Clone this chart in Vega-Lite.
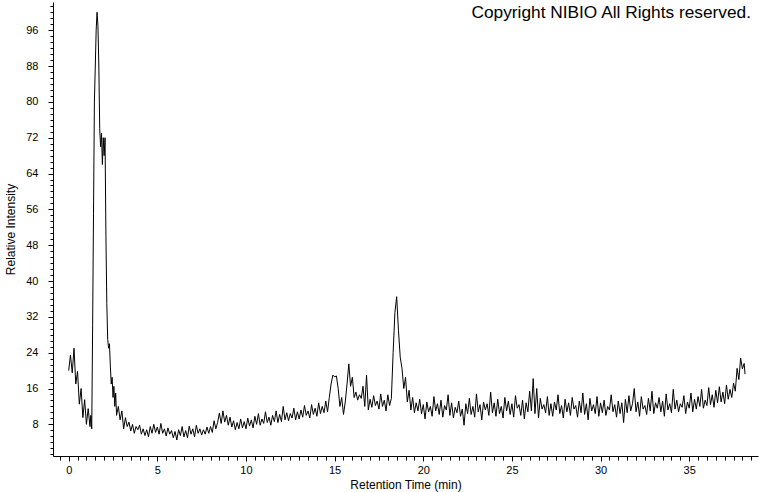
{
"$schema": "https://vega.github.io/schema/vega-lite/v6.json",
"width": 705, "height": 454,
"autosize": "none",
"padding": {"left": 53, "top": 2, "right": 2, "bottom": 36},
"background": "white",
"title": {"text": "Copyright NIBIO All Rights reserved.", "anchor": "end", "frame": "group", "orient": "top", "offset": -21, "dx": -7, "fontSize": 17.3, "fontWeight": "normal", "font": "Liberation Sans", "color": "black"},
"config": {"view": {"stroke": null}, "font": "Liberation Sans", "axis": {"domainColor": "black", "tickColor": "black", "labelColor": "black", "titleColor": "black", "grid": false, "titleFontWeight": "normal", "labelFont": "Liberation Sans", "titleFont": "Liberation Sans"}},
"data": {"values": [
{"t":0.0,"v":20.0},{"t":0.1,"v":23.5},{"t":0.2,"v":19.5},{"t":0.3,"v":25.0},{"t":0.4,"v":17.0},{"t":0.5,"v":19.8},{"t":0.6,"v":12.5},{"t":0.7,"v":16.0},{"t":0.8,"v":9.5},{"t":0.9,"v":13.5},{"t":1.0,"v":8.0},{"t":1.1,"v":11.5},{"t":1.2,"v":7.5},{"t":1.25,"v":10.0},{"t":1.3,"v":7.0},
{"t":1.35,"v":30},{"t":1.4,"v":55},{"t":1.45,"v":80},{"t":1.5,"v":88},{"t":1.55,"v":96},{"t":1.6,"v":100},{"t":1.65,"v":97},{"t":1.7,"v":88},{"t":1.75,"v":74},{"t":1.8,"v":70},{"t":1.85,"v":73},{"t":1.9,"v":66},{"t":1.95,"v":72},{"t":2.0,"v":68},{"t":2.05,"v":72},{"t":2.1,"v":50},{"t":2.15,"v":35},{"t":2.2,"v":27},{"t":2.25,"v":25},{"t":2.3,"v":26},{"t":2.35,"v":21},{"t":2.4,"v":17},{"t":2.45,"v":18.5},{"t":2.5,"v":14},{"t":2.55,"v":16.5},{"t":2.6,"v":12},{"t":2.65,"v":15},{"t":2.7,"v":10},
{"t":2.8,"v":12},{"t":2.9,"v":9},{"t":3.0,"v":11},{"t":3.1,"v":7},{"t":3.2,"v":9.5},{"t":3.3,"v":7.5},{"t":3.4,"v":8.5},{"t":3.5,"v":6.5},{"t":3.6,"v":8},{"t":3.7,"v":6},{"t":3.8,"v":7.5},{"t":3.9,"v":6.8},
{"t":4.0,"v":7.8},{"t":4.1,"v":5.8},{"t":4.2,"v":7},{"t":4.3,"v":5.5},{"t":4.4,"v":6.8},{"t":4.5,"v":5.2},{"t":4.6,"v":7.5},{"t":4.7,"v":6},{"t":4.8,"v":8},{"t":4.9,"v":6.2},
{"t":5.0,"v":7.4},{"t":5.1,"v":5.8},{"t":5.2,"v":8.2},{"t":5.3,"v":6},{"t":5.4,"v":7},{"t":5.5,"v":5.4},{"t":5.6,"v":7.2},{"t":5.7,"v":5.8},{"t":5.8,"v":6.6},{"t":5.9,"v":5},
{"t":6.0,"v":6.4},{"t":6.1,"v":4.5},{"t":6.2,"v":6.8},{"t":6.3,"v":5.5},{"t":6.4,"v":7.5},{"t":6.5,"v":5.2},{"t":6.6,"v":6.6},{"t":6.7,"v":5},{"t":6.8,"v":7.6},{"t":6.9,"v":5.8},
{"t":7.0,"v":7},{"t":7.1,"v":5.2},{"t":7.2,"v":7.8},{"t":7.3,"v":6},{"t":7.4,"v":7},{"t":7.5,"v":5.6},{"t":7.6,"v":6.8},{"t":7.7,"v":5.8},{"t":7.8,"v":7.4},{"t":7.9,"v":6},
{"t":8.0,"v":7.5},{"t":8.1,"v":6.2},{"t":8.2,"v":8.8},{"t":8.3,"v":7},{"t":8.4,"v":8.4},{"t":8.5,"v":10.5},{"t":8.6,"v":8.2},{"t":8.7,"v":11},{"t":8.8,"v":8.5},{"t":8.9,"v":10},
{"t":9.0,"v":7.8},{"t":9.1,"v":9.6},{"t":9.2,"v":7.4},{"t":9.3,"v":8.8},{"t":9.4,"v":6.8},{"t":9.5,"v":8.4},{"t":9.6,"v":7},{"t":9.7,"v":9.2},{"t":9.8,"v":7.2},{"t":9.9,"v":8.6},
{"t":10.0,"v":7},{"t":10.1,"v":9.4},{"t":10.2,"v":7.6},{"t":10.3,"v":9},{"t":10.4,"v":7.2},{"t":10.5,"v":9.8},{"t":10.6,"v":8},{"t":10.7,"v":10.4},{"t":10.8,"v":7.8},{"t":10.9,"v":9.2},
{"t":11.0,"v":8.2},{"t":11.1,"v":10.8},{"t":11.2,"v":8.4},{"t":11.3,"v":9.6},{"t":11.4,"v":7.8},{"t":11.5,"v":10},{"t":11.6,"v":8.6},{"t":11.7,"v":11},{"t":11.8,"v":8.4},{"t":11.9,"v":10.2},
{"t":12.0,"v":8.6},{"t":12.1,"v":12},{"t":12.2,"v":9},{"t":12.3,"v":10.6},{"t":12.4,"v":8.8},{"t":12.5,"v":10.4},{"t":12.6,"v":9.4},{"t":12.7,"v":11.6},{"t":12.8,"v":9},{"t":12.9,"v":10.8},
{"t":13.0,"v":9.2},{"t":13.1,"v":11.2},{"t":13.2,"v":9.6},{"t":13.3,"v":12.2},{"t":13.4,"v":10},{"t":13.5,"v":11},{"t":13.6,"v":9.4},{"t":13.7,"v":12.4},{"t":13.8,"v":10.2},{"t":13.9,"v":11.6},
{"t":14.0,"v":9.8},{"t":14.1,"v":12.8},{"t":14.2,"v":10.4},{"t":14.3,"v":12},{"t":14.4,"v":10.6},{"t":14.5,"v":13.2},{"t":14.6,"v":10.8},{"t":14.7,"v":14},{"t":14.8,"v":17},{"t":14.9,"v":19},
{"t":15.0,"v":18.6},{"t":15.1,"v":18.8},{"t":15.2,"v":16},{"t":15.3,"v":12},{"t":15.4,"v":14},{"t":15.5,"v":10.2},{"t":15.6,"v":13},{"t":15.7,"v":17},{"t":15.8,"v":21.5},{"t":15.9,"v":16.5},
{"t":16.0,"v":18.5},{"t":16.1,"v":14},{"t":16.2,"v":15.2},{"t":16.3,"v":13.4},{"t":16.4,"v":14.6},{"t":16.5,"v":13.8},{"t":16.6,"v":16.5},{"t":16.7,"v":12},{"t":16.8,"v":19},{"t":16.9,"v":11.2},
{"t":17.0,"v":13.6},{"t":17.1,"v":11.8},{"t":17.2,"v":14.4},{"t":17.3,"v":12.2},{"t":17.4,"v":13.2},{"t":17.5,"v":11.4},{"t":17.6,"v":14.8},{"t":17.7,"v":12},{"t":17.8,"v":13.4},{"t":17.9,"v":11},
{"t":18.0,"v":14.6},{"t":18.1,"v":12.2},{"t":18.2,"v":13.8},{"t":18.3,"v":24},{"t":18.4,"v":33},{"t":18.5,"v":36.5},{"t":18.6,"v":29},{"t":18.7,"v":23},{"t":18.8,"v":20.5},{"t":18.9,"v":16},
{"t":19.0,"v":18.5},{"t":19.1,"v":13},{"t":19.2,"v":15.6},{"t":19.3,"v":11.2},{"t":19.4,"v":14},{"t":19.5,"v":10.6},{"t":19.6,"v":12.8},{"t":19.7,"v":11},{"t":19.8,"v":13.6},{"t":19.9,"v":10.4},
{"t":20.0,"v":12.4},{"t":20.1,"v":9.2},{"t":20.2,"v":13},{"t":20.3,"v":10.8},{"t":20.4,"v":12},{"t":20.5,"v":9.8},{"t":20.6,"v":14.2},{"t":20.7,"v":11},{"t":20.8,"v":12.6},{"t":20.9,"v":10.2},
{"t":21.0,"v":13.4},{"t":21.1,"v":9.6},{"t":21.2,"v":12.2},{"t":21.3,"v":11.2},{"t":21.4,"v":14.6},{"t":21.5,"v":10},{"t":21.6,"v":12.8},{"t":21.7,"v":9.4},{"t":21.8,"v":11.8},{"t":21.9,"v":10.6},
{"t":22.0,"v":13.2},{"t":22.1,"v":9.8},{"t":22.2,"v":11.4},{"t":22.3,"v":7.8},{"t":22.4,"v":12.6},{"t":22.5,"v":10.4},{"t":22.6,"v":13.8},{"t":22.7,"v":10.2},{"t":22.8,"v":12},{"t":22.9,"v":9.6},
{"t":23.0,"v":14.8},{"t":23.1,"v":10.8},{"t":23.2,"v":12.4},{"t":23.3,"v":9},{"t":23.4,"v":13},{"t":23.5,"v":11.2},{"t":23.6,"v":12.6},{"t":23.7,"v":10},{"t":23.8,"v":15.2},{"t":23.9,"v":10.6},
{"t":24.0,"v":12.8},{"t":24.1,"v":9.8},{"t":24.2,"v":13.6},{"t":24.3,"v":10.4},{"t":24.4,"v":12},{"t":24.5,"v":9.4},{"t":24.6,"v":14},{"t":24.7,"v":11},{"t":24.8,"v":13.2},{"t":24.9,"v":10.2},
{"t":25.0,"v":12.6},{"t":25.1,"v":9.6},{"t":25.2,"v":14.4},{"t":25.3,"v":11.6},{"t":25.4,"v":12.4},{"t":25.5,"v":10},{"t":25.6,"v":13.4},{"t":25.7,"v":9.2},{"t":25.8,"v":12.8},{"t":25.9,"v":10.8},
{"t":26.0,"v":15.4},{"t":26.1,"v":11},{"t":26.2,"v":18.2},{"t":26.3,"v":10.4},{"t":26.4,"v":16},{"t":26.5,"v":9.4},{"t":26.6,"v":13.8},{"t":26.7,"v":11.4},{"t":26.8,"v":12.4},{"t":26.9,"v":10.6},
{"t":27.0,"v":14.2},{"t":27.1,"v":10},{"t":27.2,"v":12.6},{"t":27.3,"v":9.8},{"t":27.4,"v":13},{"t":27.5,"v":11.2},{"t":27.6,"v":14.6},{"t":27.7,"v":10.4},{"t":27.8,"v":12.2},{"t":27.9,"v":9.4},
{"t":28.0,"v":13.6},{"t":28.1,"v":10.8},{"t":28.2,"v":12.8},{"t":28.3,"v":10},{"t":28.4,"v":14},{"t":28.5,"v":11.4},{"t":28.6,"v":12.2},{"t":28.7,"v":9.6},{"t":28.8,"v":13.2},{"t":28.9,"v":10.6},
{"t":29.0,"v":15},{"t":29.1,"v":10.2},{"t":29.2,"v":12.6},{"t":29.3,"v":9},{"t":29.4,"v":13.8},{"t":29.5,"v":11},{"t":29.6,"v":12.4},{"t":29.7,"v":10.4},{"t":29.8,"v":14.2},{"t":29.9,"v":9.8},
{"t":30.0,"v":12.8},{"t":30.1,"v":10.6},{"t":30.2,"v":13.4},{"t":30.3,"v":10},{"t":30.4,"v":12},{"t":30.5,"v":11.2},{"t":30.6,"v":14.6},{"t":30.7,"v":10.8},{"t":30.8,"v":12.4},{"t":30.9,"v":9.6},
{"t":31.0,"v":13.2},{"t":31.1,"v":10.4},{"t":31.2,"v":12.8},{"t":31.3,"v":8.4},{"t":31.4,"v":13.6},{"t":31.5,"v":10.6},{"t":31.6,"v":14.4},{"t":31.7,"v":11},{"t":31.8,"v":12.6},{"t":31.9,"v":16},
{"t":32.0,"v":10.8},{"t":32.1,"v":13},{"t":32.2,"v":9.8},{"t":32.3,"v":14.2},{"t":32.4,"v":11.4},{"t":32.5,"v":12.2},{"t":32.6,"v":10.2},{"t":32.7,"v":13.8},{"t":32.8,"v":11},{"t":32.9,"v":15.4},
{"t":33.0,"v":10.4},{"t":33.1,"v":12.8},{"t":33.2,"v":11.6},{"t":33.3,"v":14},{"t":33.4,"v":10.8},{"t":33.5,"v":13.2},{"t":33.6,"v":9.8},{"t":33.7,"v":14.8},{"t":33.8,"v":11.2},{"t":33.9,"v":12.6},
{"t":34.0,"v":10.6},{"t":34.1,"v":15.8},{"t":34.2,"v":11.4},{"t":34.3,"v":13.4},{"t":34.4,"v":10.8},{"t":34.5,"v":12.6},{"t":34.6,"v":11.8},{"t":34.7,"v":14.4},{"t":34.8,"v":10.4},{"t":34.9,"v":13},
{"t":35.0,"v":11.6},{"t":35.1,"v":15},{"t":35.2,"v":10.8},{"t":35.3,"v":13.6},{"t":35.4,"v":11.4},{"t":35.5,"v":14.2},{"t":35.6,"v":12},{"t":35.7,"v":15.8},{"t":35.8,"v":11.6},{"t":35.9,"v":13.4},
{"t":36.0,"v":12.2},{"t":36.1,"v":16.2},{"t":36.2,"v":12.4},{"t":36.3,"v":14.6},{"t":36.4,"v":11.8},{"t":36.5,"v":15.6},{"t":36.6,"v":12.8},{"t":36.7,"v":16.4},{"t":36.8,"v":13},{"t":36.9,"v":15.2},
{"t":37.0,"v":12.6},{"t":37.1,"v":16.8},{"t":37.2,"v":13.6},{"t":37.3,"v":15.8},{"t":37.4,"v":14},{"t":37.5,"v":17.2},{"t":37.6,"v":15.4},{"t":37.7,"v":20.5},{"t":37.8,"v":18},{"t":37.9,"v":22.8},
{"t":38.0,"v":20.4},{"t":38.1,"v":21.6},{"t":38.15,"v":19.2}
]},
"mark": {"type": "line", "color": "black", "strokeWidth": 1, "clip": true},
"encoding": {
"x": {"field": "t", "type": "quantitative", "scale": {"domain": [-0.885, 38.88], "nice": false, "zero": false},
 "axis": {"title": "Retention Time (min)", "titleFontSize": 12, "titlePadding": 4, "labelFontSize": 11, "labelPadding": 3, "labelOverlap": false, "labelFlush": false,
  "values": [-0.5,0,0.5,1,1.5,2,2.5,3,3.5,4,4.5,5,5.5,6,6.5,7,7.5,8,8.5,9,9.5,10,10.5,11,11.5,12,12.5,13,13.5,14,14.5,15,15.5,16,16.5,17,17.5,18,18.5,19,19.5,20,20.5,21,21.5,22,22.5,23,23.5,24,24.5,25,25.5,26,26.5,27,27.5,28,28.5,29,29.5,30,30.5,31,31.5,32,32.5,33,33.5,34,34.5,35,35.5,36,36.5,37,37.5,38,38.5],
  "labelExpr": "datum.value % 5 === 0 ? '' + datum.value : ''",
  "tickSize": {"condition": {"test": "datum.value % 5 === 0", "value": 5}, "value": 4}}},
"y": {"field": "v", "type": "quantitative", "scale": {"domain": [0.93, 102.3], "nice": false, "zero": false},
 "axis": {"title": "Relative Intensity", "titleFontSize": 12, "titlePadding": 8, "labelFontSize": 11, "labelPadding": 10, "labelOverlap": false, "labelFlush": false,
  "values": [1.3333,2.6667,4,5.3333,6.6667,8,9.3333,10.6667,12,13.3333,14.6667,16,17.3333,18.6667,20,21.3333,22.6667,24,25.3333,26.6667,28,29.3333,30.6667,32,33.3333,34.6667,36,37.3333,38.6667,40,41.3333,42.6667,44,45.3333,46.6667,48,49.3333,50.6667,52,53.3333,54.6667,56,57.3333,58.6667,60,61.3333,62.6667,64,65.3333,66.6667,68,69.3333,70.6667,72,73.3333,74.6667,76,77.3333,78.6667,80,81.3333,82.6667,84,85.3333,86.6667,88,89.3333,90.6667,92,93.3333,94.6667,96,97.3333,98.6667,100,101.3333],
  "labelExpr": "datum.value % 8 === 0 ? '' + datum.value : ''",
  "tickSize": {"condition": {"test": "datum.value % 8 === 0", "value": 5}, "value": 3}}}
}
}
